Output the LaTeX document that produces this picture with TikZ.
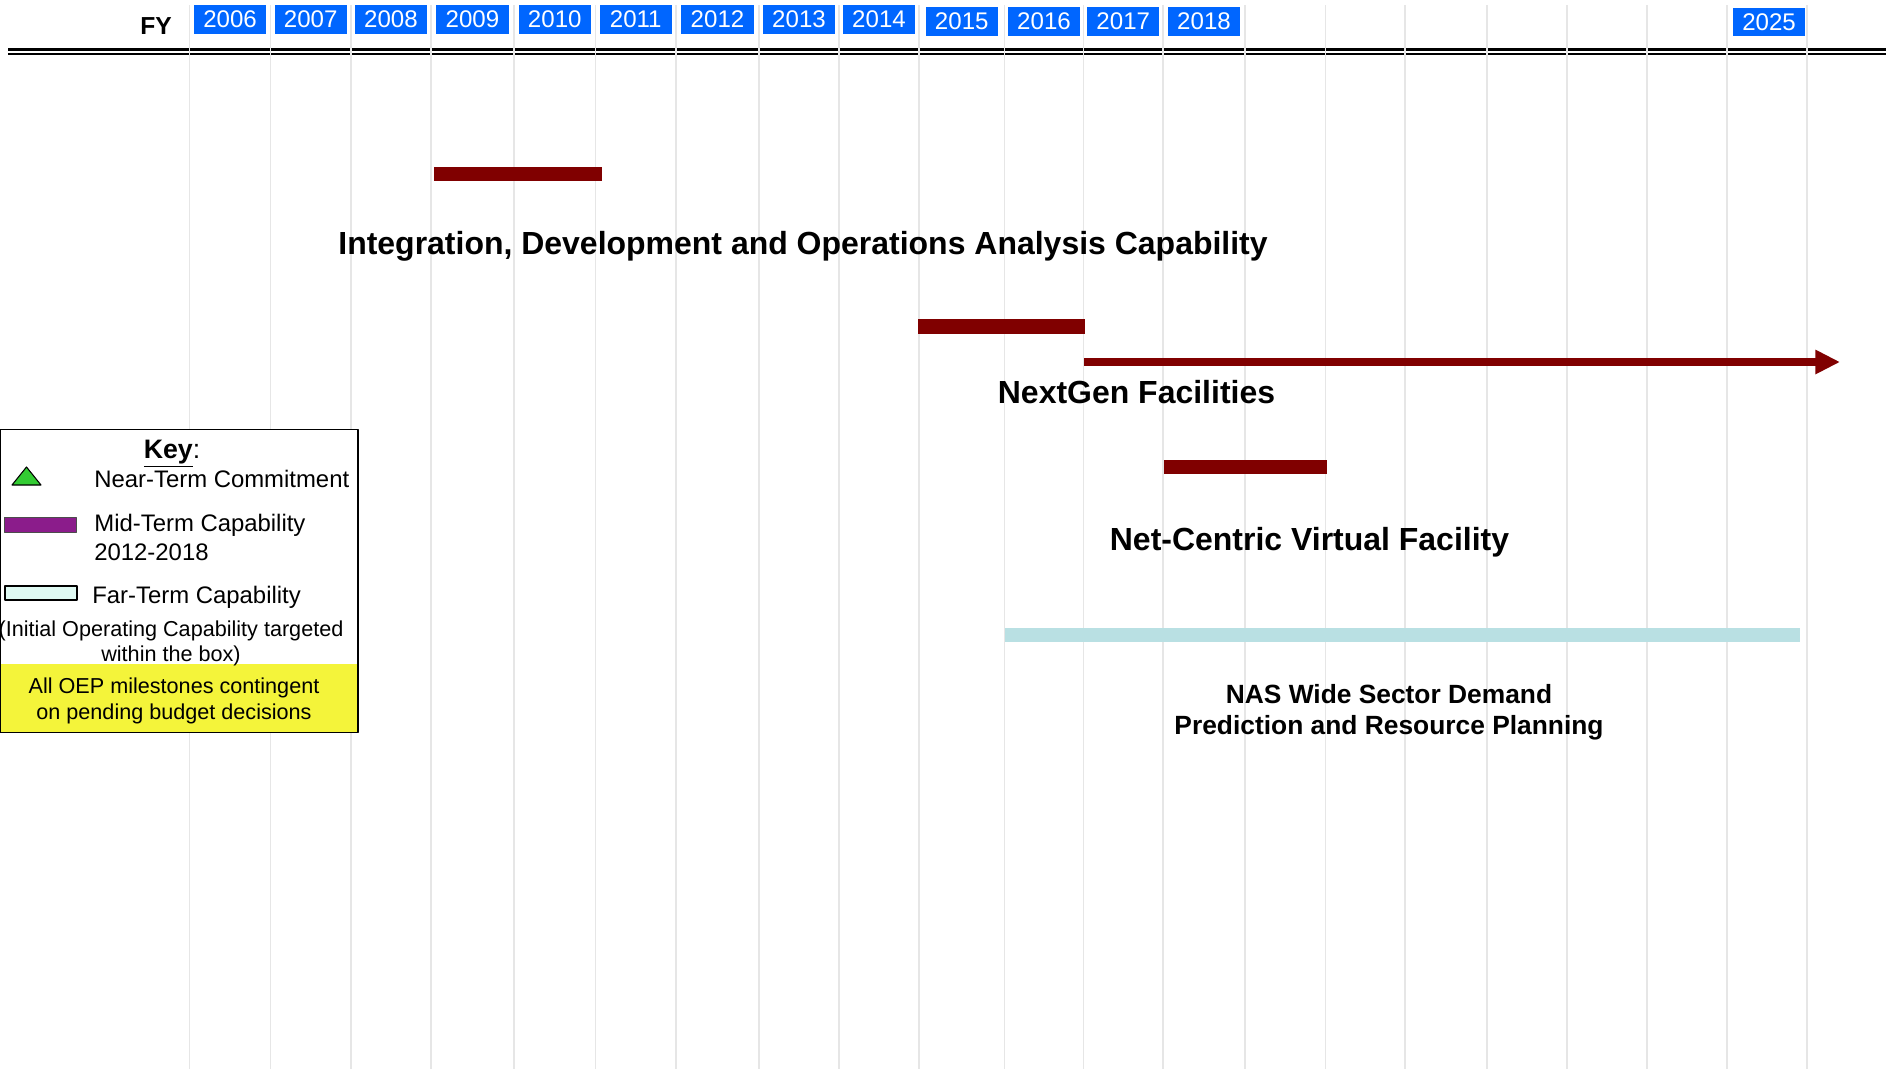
\documentclass[tikz,border=0pt]{standalone}
\usepackage{fontspec}
\setmainfont{Liberation Sans}
\usetikzlibrary{arrows.meta}
\definecolor{fy_blue}{HTML}{0066FF}
\definecolor{bar_red}{HTML}{800000}
\definecolor{far_cyan}{HTML}{B9E0E3}
\definecolor{grid_gray}{HTML}{E6E6E6}
\definecolor{near_green}{HTML}{33CC33}
\definecolor{mid_purple}{HTML}{8B1C8B}
\definecolor{far_mint}{HTML}{DFFAF3}
\definecolor{key_yellow}{HTML}{F4F43A}
\tikzset{
  grid_line/.style={grid_gray, line width=0.8pt},
  year_box/.style={fill=fy_blue, text=white, minimum width=41pt, minimum height=16.5pt,
    inner sep=0pt, font=\fontsize{13.7}{16}\selectfont},
  bar_title/.style={anchor=base, font=\bfseries\fontsize{18.2}{21}\selectfont},
  sub_title/.style={anchor=base, font=\bfseries\fontsize{15}{18}\selectfont},
  key_text/.style={anchor=base west, inner sep=0pt, font=\fontsize{13.6}{16}\selectfont},
  key_note/.style={anchor=base, inner sep=0pt, font=\fontsize{12.3}{15}\selectfont},
}

\begin{document}
\begin{tikzpicture}[x=0.02cm, y=-0.02cm, line join=round]
	\useasboundingbox (0,0) rectangle (1892,1069);

	% fiscal year rule
	\draw[line width=1.8pt] (8,49.5) -- (1886,49.5);
	\draw[line width=1.2pt] (8,53.8) -- (1886,53.8);
	\foreach \x in {189.7,270.5,351,431,514,595.5,676,759,839,919,1004.5,1083.5,
	                1163,1245,1325.5,1405,1487,1567,1647,1727,1807}
		\draw[grid_line] (\x,5) -- (\x,1069);

	\node[anchor=base, font=\bfseries\fontsize{14}{16}\selectfont] (fy) at (156,34) {FY};
	\foreach \yr/\xa/\xb in {2006/189.7/270.5, 2007/270.5/351, 2008/351/431, 2009/431/514,
	                         2010/514/595.5, 2011/595.5/676, 2012/676/759, 2013/759/839, 2014/839/919}
		\node[year_box] (fy_\yr) at ({(\xa+\xb)/2},19.5) {\yr};
	\foreach \yr/\xa/\xb in {2015/919/1004.5, 2016/1004.5/1083.5, 2017/1083.5/1163, 2018/1163/1245}
		\node[year_box] (fy_\yr) at ({(\xa+\xb)/2},21.5) {\yr};
	\node[year_box] (fy_2025) at (1769,22) {2025};

	% capability bars
	\fill[bar_red] (434,166.5) rectangle (602,181);
	\node[bar_title] (idoa) at (803,254) {Integration, Development and Operations Analysis Capability};

	\fill[bar_red] (918,318.5) rectangle (1085,334);
	\coordinate (ng_start) at (1084,362);
	\coordinate (ng_end) at (1840,362);
	\draw[bar_red, line width=4.2pt, -{Triangle[length=14pt, width=13pt]}] (ng_start) -- (ng_end);
	\node[bar_title] (nextgen) at (1136.5,403) {NextGen Facilities};

	\fill[bar_red] (1164,460) rectangle (1327,474);
	\node[bar_title] (netcentric) at (1309.5,550) {Net-Centric Virtual Facility};

	\fill[far_cyan] (1005,627.5) rectangle (1800,642);
	\node[sub_title] (nas_a) at (1389,703) {NAS Wide Sector Demand};
	\node[sub_title] (nas_b) at (1389,734) {Prediction and Resource Planning};

	% key
	\draw[line width=1pt, fill=white] (0,429.5) rectangle (358,732.5);
	\fill[key_yellow] (1,663.5) rectangle (357,731.5);
	\node[anchor=base, inner sep=0pt, font=\fontsize{15.2}{18}\selectfont] (key) at (172,458) {\underline{\textbf{Key}}:};
	\filldraw[fill=near_green, draw=black, line width=0.6pt] (12,485) -- (41,485) -- (26.5,467) -- cycle;
	\node[key_text] (near) at (94,487) {Near-Term Commitment};
	\filldraw[fill=mid_purple, draw=black!70, line width=0.5pt] (4,517.5) rectangle (76,532);
	\node[key_text] (mid) at (94,531) {Mid-Term Capability};
	\node[key_text] (mid_yrs) at (94,560) {2012-2018};
	\filldraw[fill=far_mint, draw=black, line width=0.8pt] (5,586) rectangle (77,600);
	\node[key_text] (far) at (92,603) {Far-Term Capability};
	\node[key_note] (ioc_a) at (171,636) {(Initial Operating Capability targeted};
	\node[key_note] (ioc_b) at (171,661) {within the box)};
	\node[key_note] (oep_a) at (174,693) {All OEP milestones contingent};
	\node[key_note] (oep_b) at (174,719) {on pending budget decisions};

\end{tikzpicture}
\end{document}
